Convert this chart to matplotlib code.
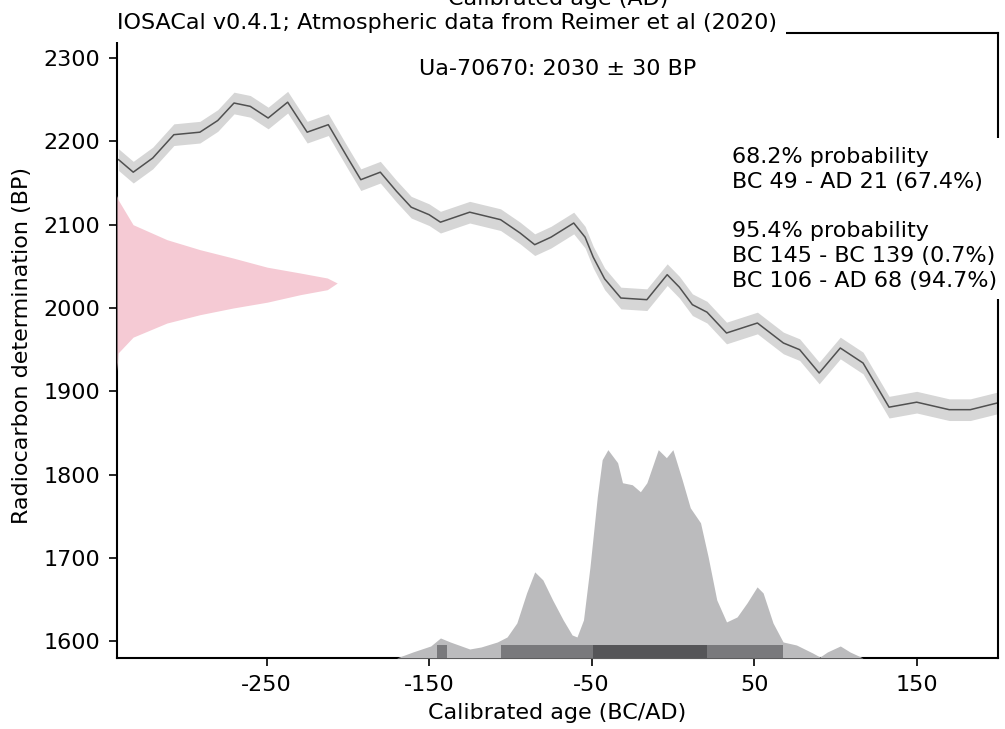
import numpy as np
import matplotlib.pyplot as plt

# calibration curve (IntCal20): calendar year, BP
curve_year = [-341, -332, -320, -307, -291, -280, -270, -260, -249, -237,
              -225, -212, -200, -192, -180, -170, -161, -150, -143, -125,
              -106, -94, -85, -75, -61, -54, -49, -42, -32, -16,
              -3.5, 4, 12, 21, 33, 52, 68, 78, 90, 103,
              117, 133, 150, 170, 183, 199.5]
curve_bp = [2178, 2163, 2180, 2208, 2211, 2225, 2246, 2242, 2228, 2247,
            2211, 2220, 2180, 2154, 2163, 2140, 2121, 2112, 2103, 2115,
            2106, 2090, 2076, 2085, 2102, 2085, 2061, 2035, 2012, 2010,
            2040, 2025, 2004, 1995, 1970, 1982, 1958, 1950, 1922, 1952,
            1934, 1881, 1887, 1878, 1878, 1886]
curve_sigma = 13

# calibrated date distribution (relative probability)
cal_year = [-170, -160, -149, -143, -137, -125, -118, -108, -102, -96,
            -90, -85, -80, -74, -67.5, -62, -59, -55, -51, -46.5,
            -43.5, -40, -34, -31, -25, -20, -16, -9, -4, 0,
            5.7, 10.7, 17, 21.7, 27, 33, 39.5, 45.6, 51.8, 55.5,
            61.6, 67.8, 76, 86, 90.5, 95, 103, 109, 117]
cal_prob = [0, 6, 12, 20, 16, 9, 11, 16, 21, 35,
            65, 86, 78, 58, 38, 23, 21, 38, 91, 161,
            198, 208, 195, 175, 173, 166, 175, 208, 200, 208,
            178, 150, 135, 101, 58, 36, 41, 55, 71, 65,
            35, 16, 13, 5, 1, 6, 12, 6, 0]

# radiocarbon determination
rc_bp = [2135, 2130, 2100, 2082, 2070, 2060, 2049, 2042, 2036, 2030,
         2022, 2016, 2007, 2000, 1992, 1982, 1965, 1946, 1925]
rc_prob = [0, 0.005, 0.073, 0.227, 0.377, 0.527, 0.682, 0.832, 0.955, 1.0,
           0.955, 0.832, 0.682, 0.527, 0.377, 0.227, 0.073, 0.005, 0]

int68 = [(-49, 21)]
int95 = [(-145, -139), (-106, 68)]

sample_text = "Ua-70670: 2030 \u00b1 30 BP"
prob_text = ("68.2% probability\nBC 49 - AD 21 (67.4%)\n\n"
             "95.4% probability\nBC 145 - BC 139 (0.7%)\nBC 106 - AD 68 (94.7%)")

xticks = [-250, -150, -50, 50, 150]
yticks = [1600, 1700, 1800, 1900, 2000, 2100, 2200, 2300]

fs = 16
plt.rcParams['font.family'] = 'DejaVu Sans'

fig = plt.figure(figsize=(10.05, 7.29), dpi=100)
ax1 = fig.add_axes([0.1164, 0.0974, 0.8766, 0.8573])

cy = np.array(curve_year)
cb = np.array(curve_bp)
ax1.fill_between(cy, cb - curve_sigma, cb + curve_sigma, color='#d6d6d6', lw=0)
ax1.plot(cy, cb, color='#505050', lw=1.1)

ax1.set_xlim(-342, 200)
ax1.set_ylim(1580, 2330)
ax1.set_xticks(xticks, [str(t) for t in xticks])
ax1.set_yticks(yticks, [str(t) for t in yticks])
ax1.tick_params(labelsize=fs, length=6, width=1.2, pad=6)
for s in ax1.spines.values():
    s.set_linewidth(1.5)
ax1.set_xlabel("Calibrated age (BC/AD)", fontsize=fs, labelpad=6)
ax1.set_ylabel("Radiocarbon determination (BP)", fontsize=fs, labelpad=8)

ax1.text(0.5, 0.943, sample_text, ha='center', va='center', fontsize=fs,
         transform=ax1.transAxes,
         bbox=dict(facecolor='white', alpha=0.9, lw=0))
ax1.text(0.698, 0.818, prob_text, ha='left', va='top', fontsize=fs,
         linespacing=1.3, transform=ax1.transAxes,
         bbox=dict(facecolor='white', edgecolor='none', pad=6))
ax1.set_title("IOSACal v0.4.1; Atmospheric data from Reimer et al (2020)",
              loc='left', fontsize=fs, y=1.0, pad=3, va='baseline',
              bbox=dict(facecolor='white', edgecolor='none', pad=6.5))

# calendar age distribution
ax2 = ax1.twinx()
cp = np.array(cal_prob) / max(cal_prob)
ax2.fill_between(cal_year, 0, cp, color='#bbbbbd', lw=0)
for a, b in int95:
    ax2.axvspan(a, b, ymin=0, ymax=0.02, color='#79797c', lw=0)
for a, b in int68:
    ax2.axvspan(a, b, ymin=0, ymax=0.02, color='#555558', lw=0)
ax2.set_ylim(0, 3)
ax2.set_axis_off()

# radiocarbon age distribution
ax3 = ax1.twiny()
ax3.fill_betweenx(rc_bp, 0, rc_prob, color='#f5cad4', lw=0)
ax3.set_xlim(0, 4)
ax3.set_axis_off()

fig.text(0.555, 1 - 5 / 729, "Calibrated age (AD)", ha='center',
         va='baseline', fontsize=fs)

fig.savefig('out.png', dpi=100)
